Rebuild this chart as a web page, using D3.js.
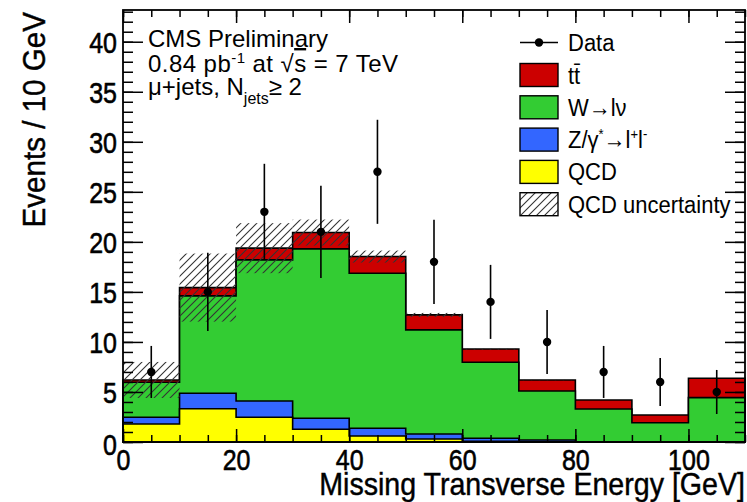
<!DOCTYPE html>
<html><head><meta charset="utf-8">
<script src="https://cdn.jsdelivr.net/npm/d3@7"></script>
<style>
body{margin:0;background:#fff;}
svg{display:block;font-family:"Liberation Sans",Arial,Helvetica,sans-serif;}
</style></head>
<body><svg id="c" width="747" height="502"></svg>
<script>
// ---- data ----
const binLow = [0,10,20,30,40,50,60,70,80,90,100];
const binWidth = 10;
const qcd    = [1.8,3.33,2.47,1.27,0.6,0.3,0.08,0.03,0,0,0];
const zjets  = [0.67,1.54,1.63,1.1,0.77,0.5,0.29,0.17,0.02,0.01,0.01];
const wjets  = [3.5,9.73,14.1,16.93,15.5,10.4,7.6,4.9,3.28,1.92,4.42];
const ttbar  = [0.23,0.83,1.17,1.63,1.66,1.5,1.33,1.1,0.9,0.77,1.94];
const qcdUnc = [1.8,3.4,2.5,1.3,0.6,0.2,0.05,0.02,0,0,0];
const dataVals = [7,15,23,21,27,18,14,10,7,6,5];
const dataErr  = [2.6,3.9,4.8,4.6,5.2,4.2,3.7,3.2,2.6,2.4,2.2];
const yMajor = [0,5,10,15,20,25,30,35,40];
const xMajor = [0,20,40,60,80,100];
const legendLabels = ["Data","tt̄","W→lν","Z/γ*→l+l-","QCD","QCD uncertainty"];
const colors = {tt:"#cc0000", w:"#33cc33", z:"#3366ff", qcd:"#ffff00"};

const svg = d3.select("#c");
const L=123, R=745, T=10, B=442;
const x = d3.scaleLinear().domain([0,110]).range([L,R]);
const y = d3.scaleLinear().domain([0,43.17]).range([B,T]);

// cumulative stacks
const n = binLow.length;
const cQ = qcd.slice();
const cZ = cQ.map((v,i)=>v+zjets[i]);
const cW = cZ.map((v,i)=>v+wjets[i]);
const cT = cW.map((v,i)=>v+ttbar[i]);

function stepArea(vals){
  const pts=[[binLow[0],0]];
  vals.forEach((v,i)=>{pts.push([binLow[i],v]);pts.push([binLow[i]+binWidth,v]);});
  pts.push([binLow[n-1]+binWidth,0]);
  return d3.line().x(d=>x(d[0])).y(d=>y(d[1]))(pts)+"Z";
}
const layers=[[cT,colors.tt],[cW,colors.w],[cZ,colors.z],[cQ,colors.qcd]];
layers.forEach(([vals,col])=>{
  svg.append("path").attr("d",stepArea(vals)).attr("fill",col)
    .attr("stroke","#000").attr("stroke-width",1.6).attr("stroke-linejoin","miter");
});

// hatch pattern
const defs=svg.append("defs");
const pat=defs.append("pattern").attr("id","hatch").attr("patternUnits","userSpaceOnUse")
  .attr("width",8).attr("height",8);
pat.append("path").attr("d","M-2,2 L2,-2 M0,8 L8,0 M6,10 L10,6")
  .attr("stroke","#333").attr("stroke-width",1.1);

svg.append("g").selectAll("rect").data(binLow.map((b,i)=>i).filter(i=>qcdUnc[i]>0)).join("rect")
  .attr("x",i=>x(binLow[i])).attr("width",i=>x(binLow[i]+binWidth)-x(binLow[i]))
  .attr("y",i=>y(cT[i]+qcdUnc[i])).attr("height",i=>y(cT[i]-qcdUnc[i])-y(cT[i]+qcdUnc[i]))
  .attr("fill","url(#hatch)");

// data points
const dg=svg.append("g");
dataVals.forEach((v,i)=>{
  const cx=x(binLow[i]+binWidth/2);
  dg.append("line").attr("x1",cx).attr("x2",cx).attr("y1",y(v-dataErr[i])).attr("y2",y(v+dataErr[i]))
    .attr("stroke","#000").attr("stroke-width",1.6);
  dg.append("circle").attr("cx",cx).attr("cy",y(v)).attr("r",4.2).attr("fill","#000");
});

// axes
function range(a,b,s){const r=[];for(let v=a;v<=b+1e-9;v+=s)r.push(v);return r;}
function axisG(ax,tr){const g=svg.append("g").attr("transform",tr).call(ax);g.select(".domain").remove();
  g.selectAll("line").attr("stroke","#000").attr("stroke-width",1.5);return g;}
// left
axisG(d3.axisLeft(y).tickValues(range(0,43,1)).tickSize(-10).tickFormat(""),`translate(${L},0)`);
const gl=axisG(d3.axisLeft(y).tickValues(yMajor).tickSize(-20).tickPadding(6),`translate(${L},0)`);
gl.selectAll("text").attr("x",0).attr("y",0).attr("dy",null)
  .attr("transform",d=>`translate(-6,${d===0?12.5:10.5}) scale(1,1.2)`)
  .attr("font-size",25).attr("font-family","Liberation Sans").attr("fill","#000")
  .attr("stroke","#000").attr("stroke-width",0.5);
// right
axisG(d3.axisRight(y).tickValues(range(0,43,1)).tickSize(-10).tickFormat(""),`translate(${R},0)`);
axisG(d3.axisRight(y).tickValues(yMajor).tickSize(-20).tickFormat(""),`translate(${R},0)`);
// bottom
axisG(d3.axisBottom(x).tickValues(range(0,110,5)).tickSize(-7).tickFormat(""),`translate(0,${B})`);
const gb=axisG(d3.axisBottom(x).tickValues(xMajor).tickSize(-13).tickPadding(6),`translate(0,${B})`);
gb.selectAll("text").attr("y",0).attr("dy",null).attr("transform","translate(0,27.5) scale(1,1.2)")
  .attr("font-size",25).attr("font-family","Liberation Sans").attr("fill","#000")
  .attr("stroke","#000").attr("stroke-width",0.5);
// top
axisG(d3.axisTop(x).tickValues(range(0,110,5)).tickSize(-7).tickFormat(""),`translate(0,${T})`);
axisG(d3.axisTop(x).tickValues(xMajor).tickSize(-13).tickFormat(""),`translate(0,${T})`);

// frame
svg.append("rect").attr("x",L).attr("y",T).attr("width",R-L).attr("height",B-T)
  .attr("fill","none").attr("stroke","#000").attr("stroke-width",1.8);

// axis titles
svg.append("text").attr("transform",`translate(${R},494.5) scale(1,1.08)`).attr("text-anchor","end")
  .attr("font-size",28.6).attr("stroke","#000").attr("stroke-width",0.4)
  .text("Missing Transverse Energy [GeV]");
svg.append("text").attr("transform","translate(45,12) rotate(-90) scale(1,1.08)").attr("text-anchor","end")
  .attr("font-size",29.6).attr("stroke","#000").attr("stroke-width",0.4).text("Events / 10 GeV");

// pave text
const pt=svg.append("g").attr("font-size",24);
pt.append("text").attr("x",148).attr("y",47).text("CMS Preliminary");
const t2=pt.append("text").attr("x",148).attr("y",72).attr("textLength",250).attr("lengthAdjust","spacing");
t2.append("tspan").text("0.84 pb");
t2.append("tspan").attr("dy",-9).attr("font-size",15).text("-1");
t2.append("tspan").attr("dy",9).text(" at √");
t2.append("tspan").attr("text-decoration","overline").text("s");
t2.append("tspan").text(" = 7 TeV");
const t3=pt.append("text").attr("x",148).attr("y",95);
t3.append("tspan").text("μ+jets, N");
t3.append("tspan").attr("dy",9).attr("font-size",16).text("jets");
t3.append("tspan").attr("dy",-9).text("≥ 2");

// legend
const lg=svg.append("g");
const ly=[42.5,75,107.3,139.6,171.9,204.2];
const bx=520,bw=38,bh=23;
lg.append("line").attr("x1",bx).attr("x2",bx+bw).attr("y1",ly[0]).attr("y2",ly[0]).attr("stroke","#000").attr("stroke-width",1.6);
lg.append("circle").attr("cx",bx+bw/2).attr("cy",ly[0]).attr("r",4.2).attr("fill","#000");
[colors.tt,colors.w,colors.z,colors.qcd,"url(#hatch)"].forEach((c,i)=>{
  lg.append("rect").attr("x",bx).attr("y",ly[i+1]-bh/2).attr("width",bw).attr("height",bh)
    .attr("fill",c).attr("stroke","#000").attr("stroke-width",1.4);
});
ly.forEach((yy,i)=>{
  const t=lg.append("text").attr("transform",`translate(568,${yy+8.5}) scale(1,1.12)`).attr("font-size",22);
  if(i===3){
    t.append("tspan").text("Z/γ");
    t.append("tspan").attr("dy",-8).attr("font-size",13).text("*");
    t.append("tspan").attr("dy",8).text("→l");
    t.append("tspan").attr("dy",-8).attr("font-size",13).text("+");
    t.append("tspan").attr("dy",8).text("l");
    t.append("tspan").attr("dy",-8).attr("font-size",13).text("-");
  } else t.text(legendLabels[i]);
});
</script></body></html>
